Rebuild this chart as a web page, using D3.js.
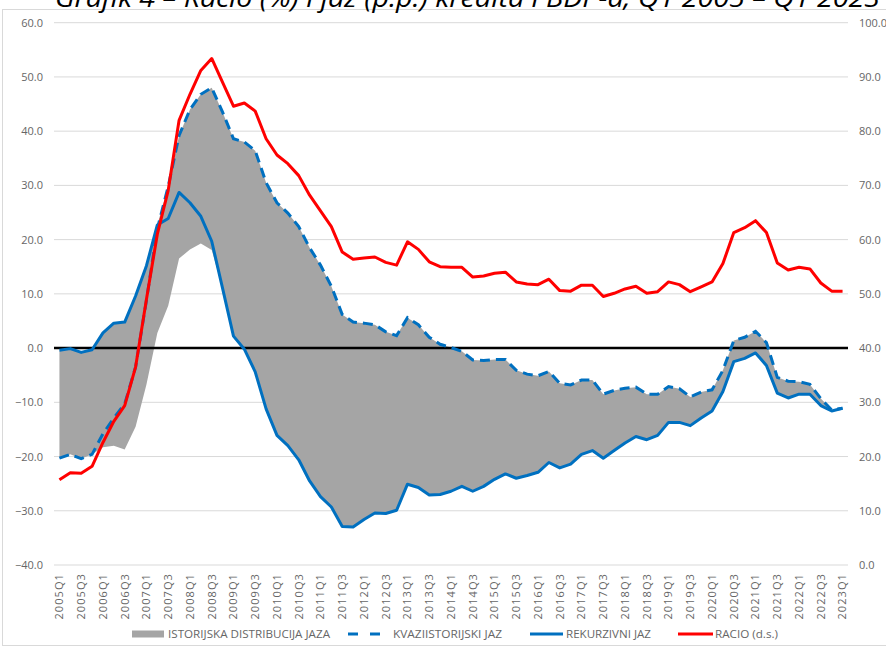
<!DOCTYPE html>
<html>
<head>
<meta charset="utf-8">
<script src="https://cdn.jsdelivr.net/npm/d3@7"></script>
<style>
  body { margin: 0; background: #fff; }
  text { font-family: "Open Sans", "Liberation Sans", sans-serif; }
</style>
</head>
<body>
<svg id="chart" width="886" height="649"></svg>
<script>
// quarters 2005Q1 .. 2023Q1
var quarters = [];
for (var yr = 2005; yr <= 2023; yr++) {
  ['Q1', 'Q2', 'Q3', 'Q4'].forEach(function(q) {
    if (yr < 2023 || q === 'Q1') quarters.push(yr + q);
  });
}

var leftTicks = [-40, -30, -20, -10, 0, 10, 20, 30, 40, 50, 60];
var rightTicks = [0, 10, 20, 30, 40, 50, 60, 70, 80, 90, 100];

// rekurzivni jaz (p.p.)
var rekurzivni = [-0.4, -0.1, -0.8, -0.3, 2.8, 4.6, 4.8, 9.6, 15.2, 22.7,
  23.9, 28.7, 26.8, 24.3, 19.7, 11.0, 2.2, -0.2, -4.4, -11.2,
  -16.1, -18.0, -20.6, -24.5, -27.4, -29.3, -32.9, -33.0, -31.6, -30.4,
  -30.5, -29.9, -25.1, -25.7, -27.1, -27.0, -26.4, -25.5, -26.4, -25.5,
  -24.2, -23.2, -24.0, -23.5, -22.9, -21.1, -22.1, -21.4, -19.6, -18.9,
  -20.3, -18.9, -17.5, -16.3, -16.9, -16.1, -13.7, -13.7, -14.3, -12.9,
  -11.6, -8.0, -2.5, -1.9, -0.9, -3.2, -8.3, -9.2, -8.5, -8.5,
  -10.6, -11.6, -11.1];

// kvaziistorijski jaz (p.p.)
var kvaziistorijski = [-20.3, -19.6, -20.4, -19.6, -15.8, -12.9, -10.3, -3.5, 8.8, 22.0,
  29.8, 39.2, 44.0, 46.8, 48.0, 43.5, 38.6, 38.0, 36.4, 30.5,
  26.8, 24.9, 22.4, 18.5, 15.3, 11.4, 6.2, 4.8, 4.6, 4.3,
  3.0, 2.3, 5.6, 4.3, 2.0, 0.7, 0.1, -0.6, -2.2, -2.3,
  -2.1, -2.1, -4.1, -4.8, -5.1, -4.3, -6.5, -6.8, -5.9, -5.9,
  -8.5, -7.8, -7.4, -7.2, -8.5, -8.5, -7.1, -7.5, -9.0, -8.1,
  -7.7, -4.1, 1.4, 2.0, 3.1, 1.0, -5.4, -6.1, -6.2, -6.7,
  -9.3, -11.4, -11.1];

// istorijska distribucija jaza - gornja i donja granica
var istorijskaGore = [-0.4, -0.1, -0.8, -0.3, 2.8, 4.6, 4.8, 9.6, 15.2, 22.7,
  29.8, 39.2, 44.0, 46.8, 48.0, 43.5, 38.6, 38.0, 36.4, 30.5,
  26.8, 24.9, 22.4, 18.5, 15.3, 11.4, 6.2, 4.8, 4.6, 4.3,
  3.0, 2.3, 5.6, 4.3, 2.0, 0.7, 0.1, -0.6, -2.2, -2.3,
  -2.1, -2.1, -4.1, -4.8, -5.1, -4.3, -6.5, -6.8, -5.9, -5.9,
  -8.5, -7.8, -7.4, -7.2, -8.5, -8.5, -7.1, -7.5, -9.0, -8.1,
  -7.7, -4.1, 1.4, 2.0, 3.1, 1.0, -5.4, -6.1, -6.2, -6.7,
  -9.3, -11.4, -11.1];
var istorijskaDole = [-20.3, -19.6, -20.4, -19.6, -18.3, -18.0, -18.7, -14.5, -6.7, 2.8,
  7.8, 16.5, 18.2, 19.3, 18.1, 11.0, 2.2, -0.2, -4.4, -11.2,
  -16.1, -18.0, -20.6, -24.5, -27.4, -29.3, -32.9, -33.0, -31.6, -30.4,
  -30.5, -29.9, -25.1, -25.7, -27.1, -27.0, -26.4, -25.5, -26.4, -25.5,
  -24.2, -23.2, -24.0, -23.5, -22.9, -21.1, -22.1, -21.4, -19.6, -18.9,
  -20.3, -18.9, -17.5, -16.3, -16.9, -16.1, -13.7, -13.7, -14.3, -12.9,
  -11.6, -8.0, -2.5, -1.9, -0.9, -3.2, -8.3, -9.2, -8.5, -8.5,
  -10.6, -11.6, -11.1];

// racio (%), desna skala
var racio = [15.7, 17.0, 16.9, 18.2, 22.6, 26.5, 29.4, 36.5, 49.0, 61.0,
  69.1, 82.0, 86.8, 91.2, 93.4, 89.0, 84.6, 85.2, 83.7, 78.6,
  75.6, 74.0, 71.8, 68.2, 65.3, 62.4, 57.7, 56.4, 56.6, 56.8,
  55.8, 55.3, 59.6, 58.2, 55.9, 55.0, 54.9, 54.9, 53.1, 53.3,
  53.8, 54.0, 52.2, 51.8, 51.7, 52.7, 50.6, 50.5, 51.6, 51.6,
  49.5, 50.1, 50.9, 51.4, 50.1, 50.4, 52.2, 51.7, 50.4, 51.3,
  52.2, 55.6, 61.3, 62.2, 63.5, 61.3, 55.7, 54.4, 54.9, 54.6,
  52.0, 50.5, 50.5];

var svg = d3.select('#chart');
var plotLeft = 54, plotRight = 848, plotTop = 22.7, plotBottom = 565;
var textColor = '#666666';
var blue = '#0070C0';

// frame + title (title sits right at the top edge, as in the source)
svg.append('rect')
  .attr('x', 2.5).attr('y', 9.5)
  .attr('width', 900).attr('height', 636)
  .attr('fill', 'none').attr('stroke', '#d9d9d9');

svg.append('text')
  .attr('x', 55).attr('y', 7)
  .attr('font-size', 26)
  .attr('font-style', 'italic')
  .attr('fill', '#000')
  .attr('textLength', 825)
  .attr('lengthAdjust', 'spacingAndGlyphs')
  .text('Grafik 4 – Racio (%) i jaz (p.p.) kredita i BDP-a, Q1 2005 – Q1 2023');

var x = d3.scaleBand().domain(quarters).range([plotLeft, plotRight]).padding(0);
var cx = function(i) { return x(quarters[i]) + x.bandwidth() / 2; };
var y = d3.scaleLinear().domain([-40, 60]).range([plotBottom, plotTop]);
var yR = d3.scaleLinear().domain([0, 100]).range([plotBottom, plotTop]);

// gridlines
svg.append('g').selectAll('line')
  .data(leftTicks)
  .enter().append('line')
  .attr('x1', plotLeft).attr('x2', plotRight)
  .attr('y1', function(d) { return y(d); })
  .attr('y2', function(d) { return y(d); })
  .attr('stroke', '#d9d9d9')
  .attr('stroke-width', 1);

// left axis
var leftAxis = svg.append('g')
  .attr('transform', 'translate(' + (plotLeft - 11) + ',0)')
  .call(d3.axisLeft(y).tickValues(leftTicks).tickSize(0).tickPadding(0).tickFormat(d3.format('.1f')));
leftAxis.select('.domain').remove();
leftAxis.selectAll('text').attr('font-size', 11).attr('fill', textColor)
  .style('font-family', '"Open Sans", sans-serif');

// right axis
var rightAxis = svg.append('g')
  .attr('transform', 'translate(' + (plotRight + 11) + ',0)')
  .call(d3.axisRight(yR).tickValues(rightTicks).tickSize(0).tickPadding(0).tickFormat(d3.format('.1f')));
rightAxis.select('.domain').remove();
rightAxis.selectAll('text').attr('font-size', 11).attr('fill', textColor)
  .style('font-family', '"Open Sans", sans-serif');

// x axis labels (every other quarter)
var xAxis = svg.append('g')
  .attr('transform', 'translate(0,' + (plotBottom + 8) + ')')
  .call(d3.axisBottom(x).tickValues(quarters.filter(function(d, i) { return i % 2 === 0; })).tickSize(0).tickPadding(0));
xAxis.select('.domain').remove();
xAxis.selectAll('text')
  .attr('font-size', 11)
  .attr('fill', textColor)
  .attr('letter-spacing', 1.1)
  .attr('transform', 'rotate(-90)')
  .attr('text-anchor', 'end')
  .attr('x', 0).attr('y', 0).attr('dy', '0.35em')
  .style('font-family', '"Open Sans", sans-serif');

var idx = d3.range(quarters.length);

// gray band
var area = d3.area()
  .x(function(i) { return cx(i); })
  .y0(function(i) { return y(istorijskaDole[i]); })
  .y1(function(i) { return y(istorijskaGore[i]); });
svg.append('path').datum(idx)
  .attr('d', area)
  .attr('fill', '#A5A5A5');

// zero line
svg.append('line')
  .attr('x1', plotLeft).attr('x2', plotRight)
  .attr('y1', y(0)).attr('y2', y(0))
  .attr('stroke', '#000').attr('stroke-width', 2.5);

var lineFor = function(arr, scale) {
  return d3.line()
    .x(function(i) { return cx(i); })
    .y(function(i) { return scale(arr[i]); });
};

svg.append('path').datum(idx)
  .attr('d', lineFor(kvaziistorijski, y))
  .attr('fill', 'none').attr('stroke', blue)
  .attr('stroke-width', 3).attr('stroke-dasharray', '10,6');

svg.append('path').datum(idx)
  .attr('d', lineFor(rekurzivni, y))
  .attr('fill', 'none').attr('stroke', blue)
  .attr('stroke-width', 3).attr('stroke-linejoin', 'round');

svg.append('path').datum(idx)
  .attr('d', lineFor(racio, yR))
  .attr('fill', 'none').attr('stroke', '#FF0000')
  .attr('stroke-width', 3).attr('stroke-linejoin', 'round');

// legend
var legendY = 634;
var legend = svg.append('g');
legend.append('rect')
  .attr('x', 132).attr('y', legendY - 3.5)
  .attr('width', 32).attr('height', 7)
  .attr('fill', '#A5A5A5');
legend.append('line')
  .attr('x1', 348).attr('x2', 380).attr('y1', legendY).attr('y2', legendY)
  .attr('stroke', blue).attr('stroke-width', 3).attr('stroke-dasharray', '10,12');
legend.append('line')
  .attr('x1', 530).attr('x2', 563).attr('y1', legendY).attr('y2', legendY)
  .attr('stroke', blue).attr('stroke-width', 3);
legend.append('line')
  .attr('x1', 678).attr('x2', 713).attr('y1', legendY).attr('y2', legendY)
  .attr('stroke', '#FF0000').attr('stroke-width', 3);

var legendItems = [
  { label: 'ISTORIJSKA DISTRIBUCIJA JAZA', x: 168, w: 162 },
  { label: 'KVAZIISTORIJSKI JAZ', x: 393, w: 109 },
  { label: 'REKURZIVNI JAZ', x: 566, w: 85 },
  { label: 'RACIO (d.s.)', x: 715, w: 63 }
];
legend.selectAll('text.lbl')
  .data(legendItems)
  .enter().append('text')
  .attr('class', 'lbl')
  .attr('x', function(d) { return d.x; })
  .attr('y', legendY + 4)
  .attr('font-size', 11)
  .attr('fill', textColor)
  .attr('textLength', function(d) { return d.w; })
  .attr('lengthAdjust', 'spacingAndGlyphs')
  .text(function(d) { return d.label; });
</script>
</body>
</html>
